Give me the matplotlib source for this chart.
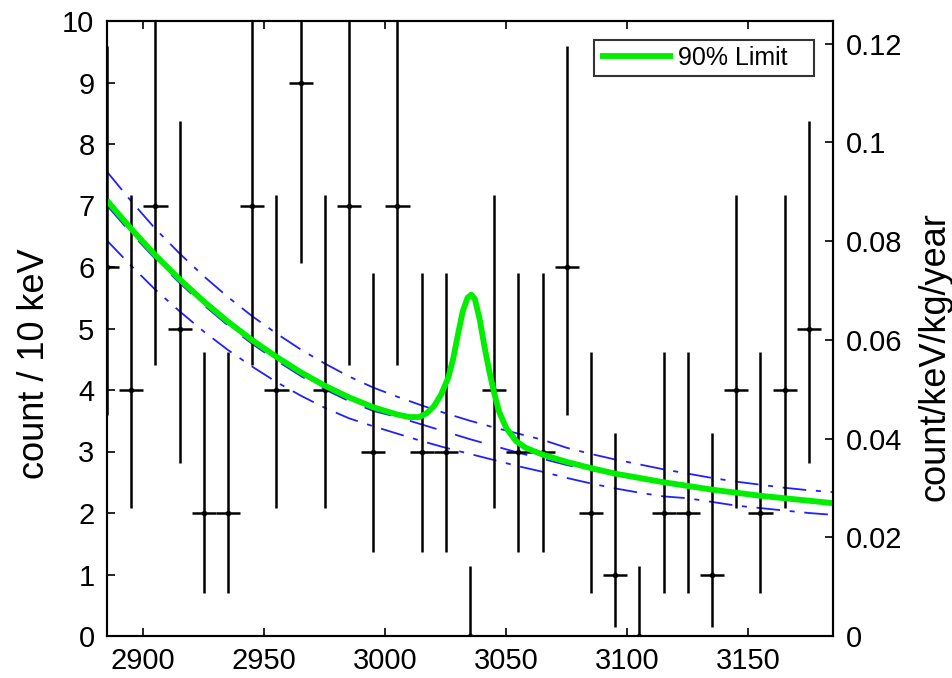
import matplotlib
matplotlib.use('Agg')
import matplotlib.pyplot as plt

plt.rcParams['font.family'] = ['Liberation Sans', 'DejaVu Sans']
plt.rcParams['lines.scale_dashes'] = False

# ---- data: counts per 10 keV bin ----
energy = [2885, 2895, 2905, 2915, 2925, 2935, 2945, 2955, 2965, 2975,
          2985, 2995, 3005, 3015, 3025, 3035, 3045, 3055, 3065, 3075,
          3085, 3095, 3105, 3115, 3125, 3135, 3145, 3155, 3165, 3175]
counts = [6, 4, 7, 5, 2, 2, 7, 4, 9, 4,
          7, 3, 7, 3, 3, 0, 4, 3, 3, 6,
          2, 1, 0, 2, 2, 1, 4, 2, 4, 5]
# asymmetric errors (lower, upper), read per count level 0..9
err_minus_by_n = [0.0, 0.85, 1.30, 1.63, 1.92, 2.19, 2.40, 2.59, 2.77, 2.94]
err_plus_by_n = [1.14, 2.30, 2.62, 2.90, 3.17, 3.38, 3.60, 3.80, 3.95, 4.10]
bin_half = 5

# ---- 90% limit curve (green) ----
limit_e = [2885, 2895, 2905, 2915, 2925, 2935, 2945, 2955, 2965, 2975,
           2985, 2995, 3005, 3010, 3014, 3017, 3020, 3023, 3026, 3028,
           3030, 3032, 3034, 3035.5, 3037, 3039, 3041, 3043, 3045, 3047,
           3050, 3054, 3058, 3065, 3075, 3085, 3095, 3105, 3115, 3125,
           3135, 3145, 3155, 3165, 3175, 3185]
limit_y = [7.08, 6.62, 6.19, 5.80, 5.44, 5.11, 4.81, 4.54, 4.29, 4.07,
           3.88, 3.72, 3.60, 3.56, 3.56, 3.62, 3.73, 3.92, 4.20, 4.50,
           4.90, 5.28, 5.50, 5.55, 5.48, 5.15, 4.70, 4.30, 3.95, 3.65,
           3.38, 3.17, 3.06, 2.95, 2.83, 2.73, 2.64, 2.57, 2.50, 2.44,
           2.38, 2.33, 2.28, 2.24, 2.20, 2.16]

# ---- background fit and band (blue) ----
bg_e = [2885, 2895, 2905, 2915, 2925, 2935, 2945, 2955, 2965, 2975,
        2985, 2995, 3005, 3015, 3025, 3035, 3045, 3055, 3065, 3075,
        3085, 3095, 3105, 3115, 3125, 3135, 3145, 3155, 3165, 3175, 3185]
bg_mid = [7.00, 6.55, 6.13, 5.74, 5.38, 5.05, 4.75, 4.48, 4.23, 4.01,
          3.82, 3.66, 3.56, 3.44, 3.32, 3.20, 3.09, 2.98, 2.88, 2.78,
          2.70, 2.62, 2.55, 2.48, 2.42, 2.36, 2.31, 2.27, 2.23, 2.19, 2.16]
bg_up = [7.55, 7.07, 6.62, 6.22, 5.85, 5.51, 5.20, 4.92, 4.66, 4.43,
         4.22, 4.04, 3.89, 3.75, 3.62, 3.50, 3.39, 3.29, 3.19, 3.06,
         2.96, 2.87, 2.79, 2.71, 2.64, 2.57, 2.51, 2.46, 2.41, 2.37, 2.34]
bg_lo = [6.43, 6.02, 5.63, 5.28, 4.95, 4.65, 4.38, 4.13, 3.91, 3.71,
         3.54, 3.41, 3.29, 3.17, 3.06, 2.96, 2.86, 2.76, 2.67, 2.57,
         2.48, 2.40, 2.33, 2.27, 2.24, 2.18, 2.12, 2.08, 2.04, 2.00, 1.97]

x_ticks = [2900, 2950, 3000, 3050, 3100, 3150]
y_ticks = list(range(0, 11))
right_ticks = [0, 0.02, 0.04, 0.06, 0.08, 0.1, 0.12]
right_labels = ['0', '0.02', '0.04', '0.06', '0.08', '0.1', '0.12']
counts_per_rate = 80.25   # count/10keV per count/keV/kg/year

fig = plt.figure(figsize=(9.52, 6.78), dpi=100)
ax = fig.add_axes([107/952, 1-636/678, (833-107)/952, (636-21)/678])

err_minus = [err_minus_by_n[n] for n in counts]
err_plus = [err_plus_by_n[n] for n in counts]

blue = '#2020ff'
dashdot = (0, (17, 7, 3.6, 7))
ax.plot(bg_e, bg_up, color=blue, lw=1.3, linestyle=dashdot, zorder=2)
ax.plot(bg_e, bg_lo, color=blue, lw=1.3, linestyle=dashdot, zorder=2)
ax.plot(bg_e, bg_mid, color=blue, lw=1.3, linestyle=(0, (20, 14)), zorder=2)

ax.errorbar(energy, counts, yerr=[err_minus, err_plus], xerr=bin_half,
            fmt='o', ms=3, color='black', ecolor='black', elinewidth=1.8,
            capsize=0, zorder=3)

ax.plot(limit_e, limit_y, color='#00ee00', lw=4.2, zorder=4, label='90% Limit   ',
        solid_capstyle='butt')

ax.set_xlim(2885, 3185)
ax.set_ylim(0, 10)
ax.set_xticks(x_ticks)
ax.set_yticks(y_ticks)
ax.tick_params(axis='x', direction='in', top=True, length=6, width=1.2,
               labelsize=21, pad=8)
ax.tick_params(axis='y', direction='in', length=6, width=1.2,
               labelsize=21, pad=9)
for s in ax.spines.values():
    s.set_linewidth(1.5)
ax.set_ylabel('count / 10 keV', fontsize=26)
ax.yaxis.set_label_coords(-0.0758, 0.442)

ax2 = ax.twinx()
ax2.set_ylim(0, 10 / counts_per_rate)
ax2.set_yticks(right_ticks)
ax2.set_yticklabels(right_labels)
ax2.tick_params(axis='y', direction='in', length=6, width=1.2,
                labelsize=21, pad=9)
for s in ax2.spines.values():
    s.set_linewidth(1.5)
ax2.set_ylabel('count/keV/kg/year', fontsize=26)
ax2.yaxis.set_label_coords(1.117, 0.454)

leg = ax.legend(loc='upper right', fontsize=18, frameon=True, fancybox=False,
                handlelength=2.9, borderaxespad=0.75, borderpad=0.25,
                handletextpad=0.2)
leg.get_frame().set_edgecolor('black')
leg.get_frame().set_linewidth(1.5)

fig.savefig('out.png', dpi=100)
